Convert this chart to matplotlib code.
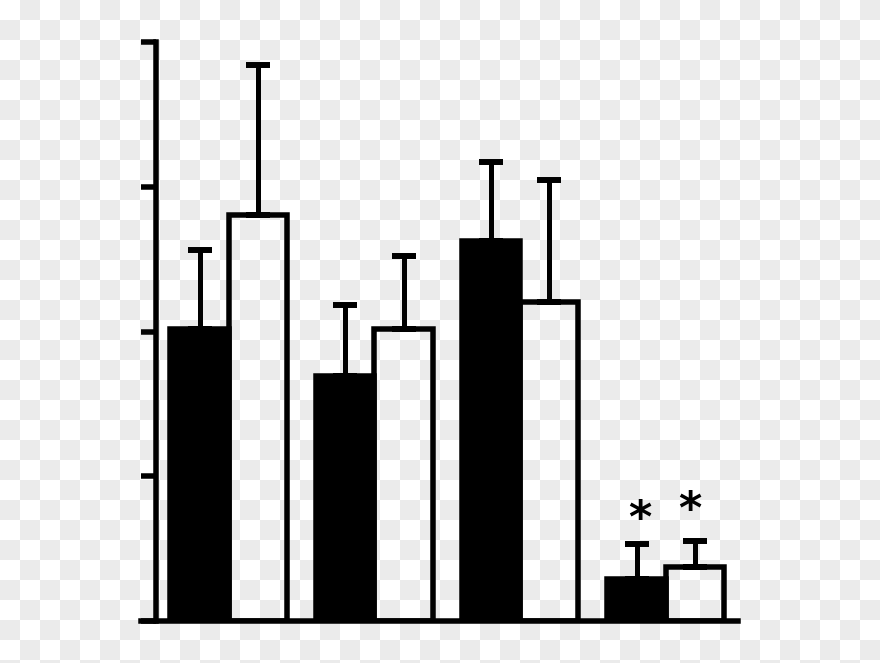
import numpy as np
import matplotlib
matplotlib.use('Agg')
import matplotlib.pyplot as plt
from matplotlib.colors import ListedColormap

# four groups, two bars each (black / open)
groups = np.arange(4)
black_vals = [50.5, 42.4, 65.7, 7.3]
black_err = [13.6, 12.2, 13.5, 6.0]
white_vals = [70.2, 50.5, 55.1, 9.4]
white_err = [25.8, 12.6, 21.1, 4.4]
star_groups = [3]
y_ticks = [0, 25, 50, 75, 100]

lw = 5.5 * 72 / 100  # about 5.5 px lines
w = 0.4

fig = plt.figure(figsize=(8.8, 6.63), dpi=100)

# checkerboard backdrop, like the transparent png preview
bg = fig.add_axes([0, 0, 1, 1], zorder=-10)
checker = np.indices((34, 44)).sum(axis=0) % 2
bg.imshow(checker, cmap=ListedColormap(['white', '#ebebeb']),
          extent=(0, 880, 680, 0), interpolation='nearest', aspect='auto')
bg.set_xlim(0, 880)
bg.set_ylim(663, 0)
bg.axis('off')

ax = fig.add_axes([141 / 880, 1 - 621 / 663, (738 - 141) / 880, (621 - 42) / 663])
ax.patch.set_alpha(0)

bx = groups - w / 2
wx = groups + w / 2
ax.bar(bx, black_vals, width=w, color='black', edgecolor='black', linewidth=lw)
ax.bar(wx, white_vals, width=w, facecolor='none', edgecolor='black', linewidth=lw)

zeros = np.zeros(len(groups))
ax.errorbar(bx, black_vals, yerr=[zeros, black_err], fmt='none', ecolor='black',
            elinewidth=3.6, capsize=8.3, capthick=4.3)
ax.errorbar(wx, white_vals, yerr=[zeros, white_err], fmt='none', ecolor='black',
            elinewidth=3.6, capsize=8.3, capthick=4.3)

# significance stars (small nudges to sit like the original)
for g in star_groups:
    for xs, top, dx, dy in [(bx[g], black_vals[g] + black_err[g], 0.024, 4.2),
                            (wx[g], white_vals[g] + white_err[g], -0.034, 5.2)]:
        ax.text(xs + dx, top + dy, '*', ha='center', va='center',
                fontsize=32, fontweight='bold', color='black')

ax.set_xlim(-0.602, 3.496)
ax.set_ylim(0, 100)
ax.set_xticks([])
ax.set_yticks(y_ticks)
ax.set_yticklabels([])
ax.tick_params(axis='y', direction='out', length=10.8, width=lw)

for s in ['top', 'right']:
    ax.spines[s].set_visible(False)
ax.spines['left'].set_position(('axes', 15 / 597))
ax.spines['left'].set_linewidth(lw)
ax.spines['bottom'].set_linewidth(lw)

fig.savefig('out.png', dpi=100)
